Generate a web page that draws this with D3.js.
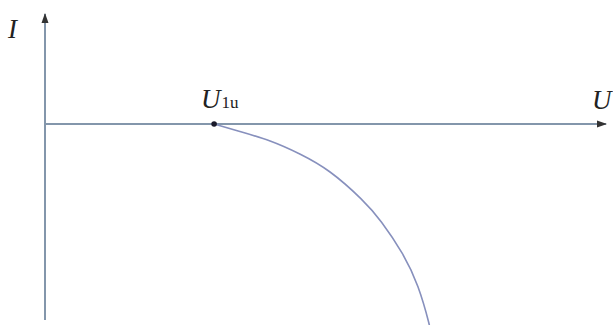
<!DOCTYPE html>
<html><head><meta charset="utf-8">
<script src="https://cdn.jsdelivr.net/npm/d3@7"></script>
<style>html,body{margin:0;padding:0;background:#fff;}svg{display:block;}</style>
</head><body>
<script>
// Data (U, I) in arbitrary units
const curveU = [30.2, 34.8, 40.2, 45.5, 50.9, 56.4, 60.1, 63.8, 66.6, 68.5, 69.1];
const curveI = [0, -3.75, -8.5, -15, -24, -37.3, -49.1, -64.7, -81.4, -99, -107];
const pointU = [30.2];
const pointI = [0];
const axisLabels = ["I", "U"];
const pointLabelMain = "U";
const pointLabelSub = "1u";

const W = 613, H = 325;
const svg = d3.select("body").append("svg").attr("width", W).attr("height", H);

const x = d3.scaleLinear().domain([0, 100]).range([45, 605]);
const y = d3.scaleLinear().domain([0, -100]).range([124, 324]);

const axisColor = "#8396ab";
const defs = svg.append("defs");
defs.append("marker").attr("id", "arr").attr("viewBox", "0 0 10 10")
  .attr("refX", 9).attr("refY", 5).attr("markerWidth", 5).attr("markerHeight", 5)
  .attr("orient", "auto")
  .append("path").attr("d", "M0,1.5 L10,5 L0,8.5 Z").attr("fill", "#333");

// vertical I axis
svg.append("line").attr("x1", x(0)).attr("x2", x(0))
  .attr("y1", 320).attr("y2", 14)
  .attr("stroke", axisColor).attr("stroke-width", 2).attr("marker-end", "url(#arr)");
// horizontal U axis
svg.append("line").attr("x1", x(0)).attr("x2", 606)
  .attr("y1", y(0)).attr("y2", y(0))
  .attr("stroke", axisColor).attr("stroke-width", 2).attr("marker-end", "url(#arr)");

const pts = curveU.map((u, i) => [u, curveI[i]]);
svg.append("path").datum(pts)
  .attr("d", d3.line().x(d => x(d[0])).y(d => y(d[1])).curve(d3.curveNatural))
  .attr("fill", "none").attr("stroke", "#8790bd").attr("stroke-width", 1.6);

svg.selectAll("circle.pt").data(pointU).enter().append("circle")
  .attr("cx", d => x(d)).attr("cy", (d, i) => y(pointI[i])).attr("r", 2.8).attr("fill", "#1a1a2a");

const font = "Liberation Serif";
svg.append("text").attr("x", 8).attr("y", 38).attr("font-family", font)
  .attr("font-style", "italic").attr("font-size", 27).attr("fill", "#222").text(axisLabels[0]);
svg.append("text").attr("x", 592).attr("y", 109).attr("font-family", font)
  .attr("font-style", "italic").attr("font-size", 27).attr("fill", "#222").text(axisLabels[1]);

const lbl = svg.append("text").attr("x", x(pointU[0]) - 13).attr("y", 108).attr("font-family", font).attr("fill", "#222");
lbl.append("tspan").attr("font-style", "italic").attr("font-size", 27).text(pointLabelMain);
lbl.append("tspan").attr("font-size", 17).attr("dx", 1).text(pointLabelSub);
</script>
</body></html>
